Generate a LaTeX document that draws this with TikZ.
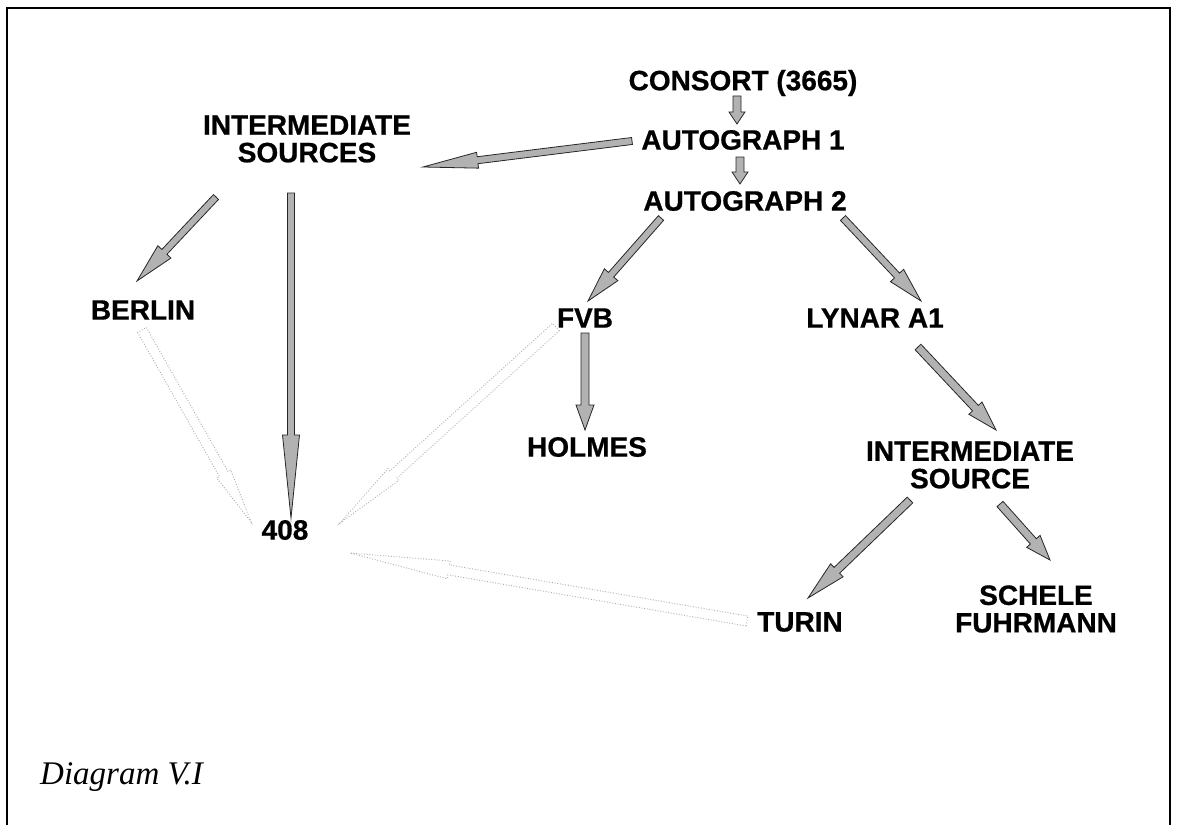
\documentclass[tikz,border=0pt]{standalone}
\usepackage{fontspec}
\setmainfont{Liberation Sans}
\newfontfamily\lblfont{Liberation Sans Bold}[FakeBold=0.7]
\newfontfamily\capfont{Liberation Serif}
\usetikzlibrary{calc}
% fat arrow: #1 style, #2 from, #3 to, #4 half shaft, #5 half head, #6 head length
\newcommand\fatarr[6]{%
  \coordinate (faS) at #2;
  \coordinate (faE) at #3;
  \coordinate (faH) at ($(faE)!#6!(faS)$);
  \draw[#1] ($(faS)!#4!90:(faE)$) -- ($(faH)!#4!-90:(faS)$) -- ($(faH)!#5!-90:(faS)$)
    -- (faE) -- ($(faH)!#5!90:(faS)$) -- ($(faH)!#4!90:(faS)$) -- ($(faS)!#4!-90:(faE)$) -- cycle;
}
\begin{document}
\begin{tikzpicture}[x=1pt,y=-1pt,
  lbl/.style={inner sep=0pt,align=center,font=\lblfont\fontsize{28}{27.5}\selectfont},
  solidarr/.style={draw=black!85,line width=0.8pt,fill=gray!60,line join=miter},
  dotarr/.style={draw=gray!65,line width=0.9pt,dash pattern=on 0.9pt off 1.8pt,line join=miter}]
\useasboundingbox (0,0) rectangle (1177,824);
\fill[white] (0,0) rectangle (1177,824);
\draw[line width=2.2pt] (7,826) -- (7,8) -- (1170,8) -- (1170,826);

\node[lbl] (consort) at (743,83) {CONSORT (3665)};
\node[lbl] (ag1) at (743,140) {AUTOGRAPH 1};
\node[lbl] (ag2) at (745,201) {AUTOGRAPH 2};
\node[lbl] (isrc) at (307,139) {INTERMEDIATE\\SOURCES};
\node[lbl] (berlin) at (143,310) {BERLIN};
\node[lbl] (fvb) at (585,318) {FVB};
\node[lbl] (lynar) at (875,318) {LYNAR A1};
\node[lbl] (holmes) at (587,447) {HOLMES};
\node[lbl] (isrc2) at (970,465) {INTERMEDIATE\\SOURCE};
\node[lbl] (n408) at (285,530) {408};
\node[lbl] (turin) at (800,622) {TURIN};
\node[lbl] (schele) at (1036,609) {SCHELE\\FUHRMANN};
\node[anchor=base west,inner sep=0pt,font=\capfont\itshape\fontsize{33}{36}\selectfont] (cap) at (40,784) {Diagram V.I};

% named connector ends
\coordinate (c1s) at (737,96);   \coordinate (c1e) at (737,124);
\coordinate (c2s) at (740,157);  \coordinate (c2e) at (740,184);
\coordinate (c3s) at (632,141);  \coordinate (c3e) at (423,167);
\coordinate (c4s) at (216,197);  \coordinate (c4e) at (137,281);
\coordinate (c5s) at (291,193);  \coordinate (c5e) at (291,518);
\coordinate (c6s) at (142,330);  \coordinate (c6e) at (251,522);
\coordinate (c7s) at (556,327);  \coordinate (c7e) at (340,523);
\coordinate (c8s) at (747,621);  \coordinate (c8e) at (350,553);
\coordinate (c9s) at (661,218);  \coordinate (c9e) at (588,301);
\coordinate (c10s) at (843,218); \coordinate (c10e) at (921,301);
\coordinate (c11s) at (585,333); \coordinate (c11e) at (585,430);
\coordinate (c12s) at (918,347); \coordinate (c12e) at (996,430);
\coordinate (c13s) at (910,500); \coordinate (c13e) at (808,598);
\coordinate (c14s) at (1000,504);\coordinate (c14e) at (1050,560);

\fatarr{solidarr}{(c1s)}{(c1e)}{4pt}{8pt}{12pt}
\fatarr{solidarr}{(c2s)}{(c2e)}{4pt}{8pt}{12pt}
\fatarr{solidarr}{(c3s)}{(c3e)}{3.5pt}{8pt}{55pt}
\fatarr{solidarr}{(c4s)}{(c4e)}{3.5pt}{9pt}{40pt}
\fatarr{solidarr}{(c5s)}{(c5e)}{3.5pt}{8.5pt}{83pt}
\fatarr{dotarr}{(c6s)}{(c6e)}{5pt}{8pt}{55pt}
\fatarr{dotarr}{(c7s)}{(c7e)}{5pt}{8pt}{72pt}
\fatarr{dotarr}{(c8s)}{(c8e)}{5pt}{9pt}{100pt}
\fatarr{solidarr}{(c9s)}{(c9e)}{3.5pt}{9pt}{35pt}
\fatarr{solidarr}{(c10s)}{(c10e)}{3.5pt}{9pt}{35pt}
\fatarr{solidarr}{(c11s)}{(c11e)}{4pt}{9pt}{25pt}
\fatarr{solidarr}{(c12s)}{(c12e)}{4pt}{9pt}{30pt}
\fatarr{solidarr}{(c13s)}{(c13e)}{4pt}{9pt}{40pt}
\fatarr{solidarr}{(c14s)}{(c14e)}{4pt}{9pt}{25pt}
\end{tikzpicture}
\end{document}
